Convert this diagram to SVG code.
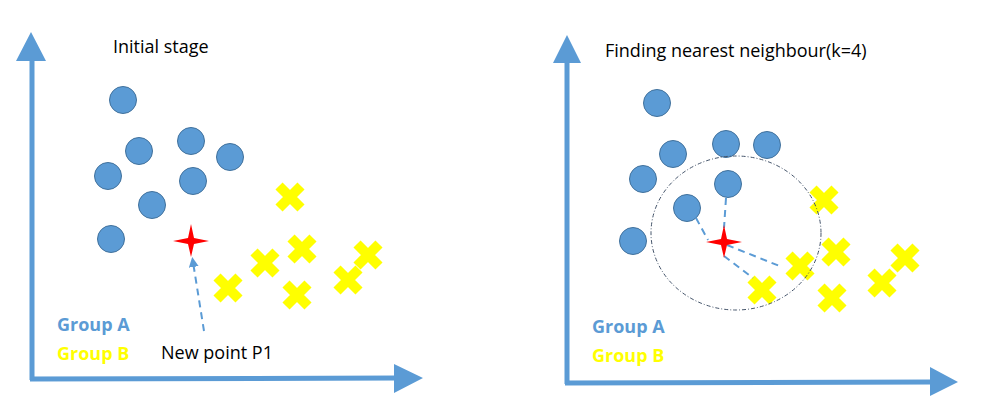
<svg xmlns="http://www.w3.org/2000/svg" width="989" height="412" viewBox="0 0 989 412">
<defs>
<style>
.ax{stroke:#5b9bd5;stroke-width:5;fill:none}
.ah{fill:#5b9bd5}
.a{fill:#5b9bd5;stroke:#41719c;stroke-width:1}
.t{font-family:"Open Sans","Liberation Sans",sans-serif;font-size:18px;fill:#000}
.ga{font-family:"Open Sans","Liberation Sans",sans-serif;font-size:18px;font-weight:bold;fill:#5b9bd5}
.gb{font-family:"Open Sans","Liberation Sans",sans-serif;font-size:18px;font-weight:bold;fill:#ffff00}
.dl{stroke:#5b9bd5;stroke-width:2;stroke-dasharray:7,5;fill:none}
</style>
<g id="xmark"><path d="M-11,-11 L11,11 M11,-11 L-11,11" stroke="#ffff00" stroke-width="10" fill="none"/></g>
<path id="star" d="M0,-17 L3,-3 L18,0 L3,3 L0,16 L-3,3 L-18,0 L-3,-3 Z" fill="#ff0000"/>
<marker id="arr" viewBox="0 0 10 10" refX="5" refY="5" markerWidth="5" markerHeight="5" orient="auto"><path d="M0,0 L10,5 L0,10 Z" fill="#5b9bd5"/></marker>
</defs>
<g id="left-axes">
<path class="ax" d="M32,380 L32,58 M30,379 L398,378"/>
<path class="ah" d="M31,32 L46,61 L16,61 Z M423,378 L394,364 L394,393 Z"/>
</g>
<g id="right-axes">
<path class="ax" d="M567,384 L567,60 M565,383 L933,382"/>
<path class="ah" d="M567,35 L581,63 L553,63 Z M958,382 L930,367 L930,396 Z"/>
</g>
<text class="t" x="113" y="53">Initial stage</text>
<text class="t" x="605" y="57">Finding nearest neighbour(k=4)</text>
<text class="ga" x="57" y="331">Group A</text>
<text class="gb" x="57" y="360">Group B</text>
<text class="t" x="161" y="359">New point P1</text>
<text class="ga" x="592" y="333">Group A</text>
<text class="gb" x="592" y="362">Group B</text>
<g id="left-groupA">
<circle class="a" cx="123" cy="100" r="13.5"/><circle class="a" cx="139" cy="151" r="13.5"/>
<circle class="a" cx="191" cy="141" r="13.5"/><circle class="a" cx="230" cy="157" r="13.5"/>
<circle class="a" cx="108" cy="176" r="13.5"/><circle class="a" cx="193" cy="181" r="13.5"/>
<circle class="a" cx="152" cy="205" r="13.5"/><circle class="a" cx="111" cy="239" r="13.5"/>
</g>
<g id="left-groupB">
<use href="#xmark" x="290" y="197"/><use href="#xmark" x="265" y="263"/><use href="#xmark" x="302" y="249"/>
<use href="#xmark" x="228" y="288"/><use href="#xmark" x="297" y="295"/><use href="#xmark" x="348" y="280"/><use href="#xmark" x="368" y="255"/>
</g>
<g id="left-p1"><use href="#star" x="191" y="241"/></g>
<g id="right-groupA">
<circle class="a" cx="657" cy="103" r="13.5"/><circle class="a" cx="673" cy="154" r="13.5"/>
<circle class="a" cx="726" cy="144" r="13.5"/><circle class="a" cx="767" cy="145" r="13.5"/>
<circle class="a" cx="643" cy="179" r="13.5"/><circle class="a" cx="728" cy="184" r="13.5"/>
<circle class="a" cx="687" cy="208" r="13.5"/><circle class="a" cx="633" cy="241" r="13.5"/>
</g>
<g id="right-groupB">
<use href="#xmark" x="824" y="200"/><use href="#xmark" x="836" y="252"/><use href="#xmark" x="800" y="266"/>
<use href="#xmark" x="762" y="290"/><use href="#xmark" x="832" y="298"/><use href="#xmark" x="882" y="283"/><use href="#xmark" x="905" y="258"/>
</g>
<g id="connectors">
<path class="dl" d="M204,331 L193,262" marker-end="url(#arr)"/>
<ellipse cx="736" cy="233" rx="85" ry="77" fill="none" stroke="#44546a" stroke-width="1" stroke-dasharray="4,2,1,2"/>
<path class="dl" d="M696,218 L708,240 M726,198 L724,228 M727,245 L782,267 M724,256 L753,278"/>
</g>
<g id="right-p1"><use href="#star" x="724" y="242"/></g>
</svg>
